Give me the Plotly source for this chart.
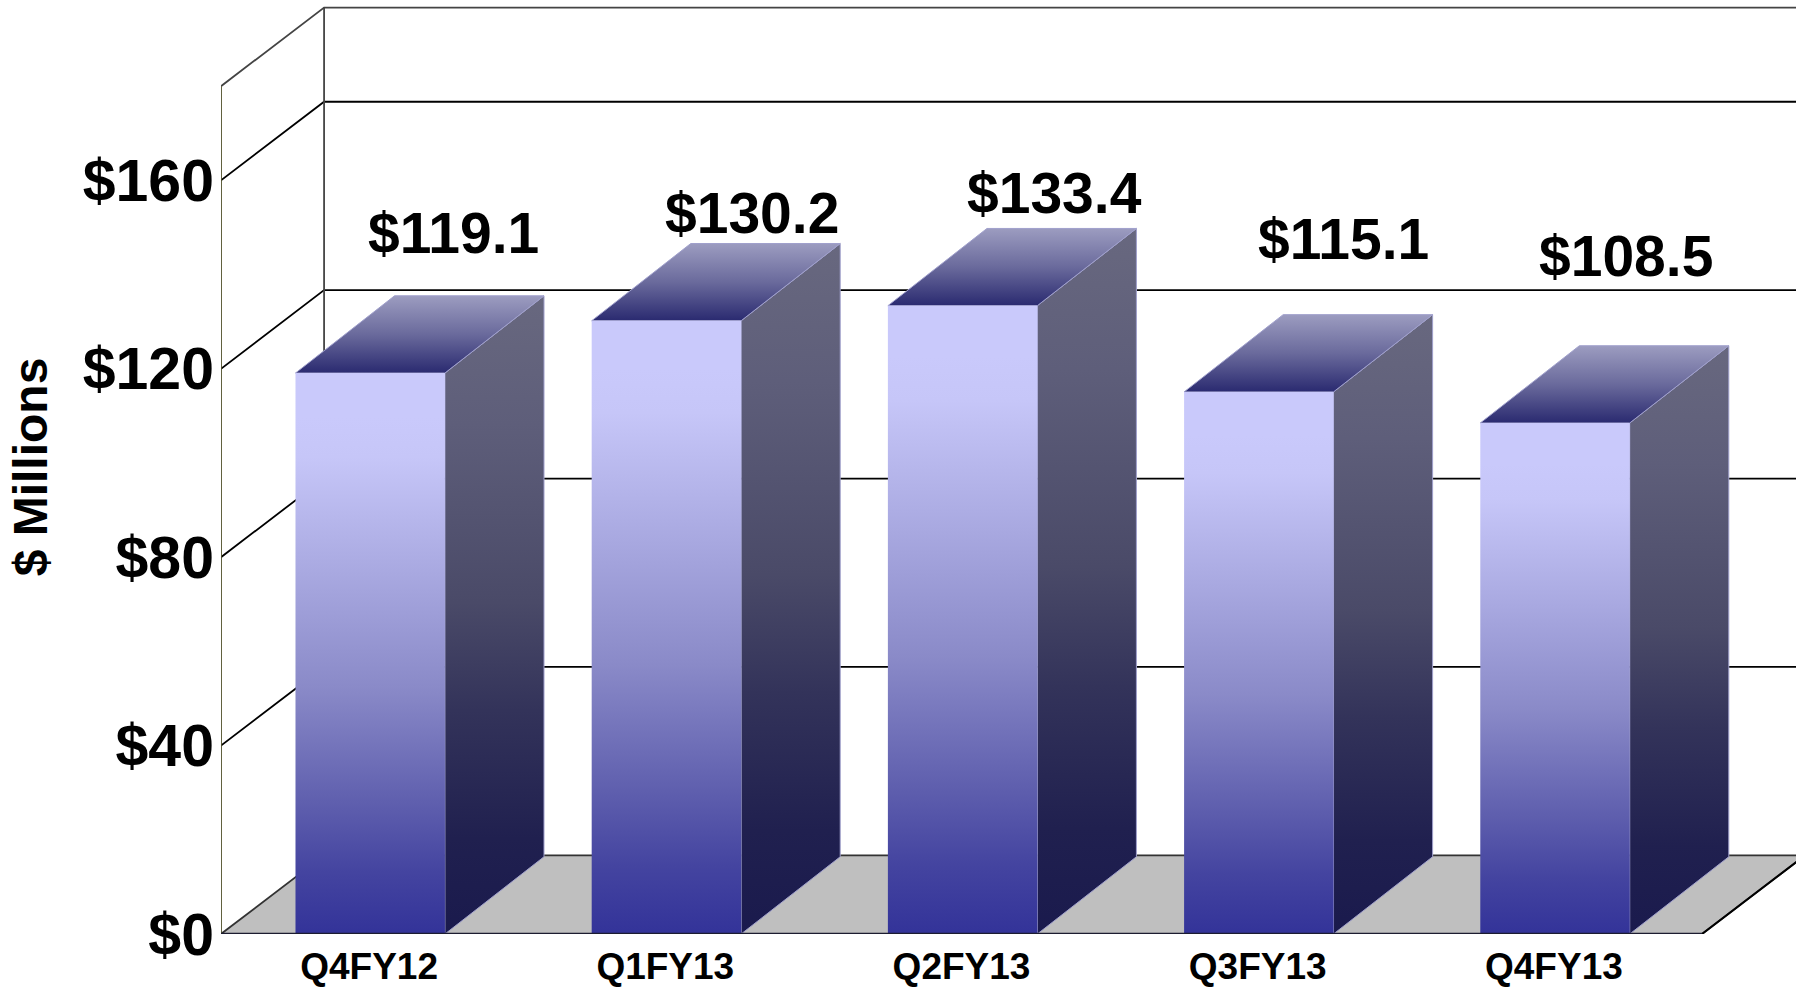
import plotly.graph_objects as go

categories = ["Q4FY12", "Q1FY13", "Q2FY13", "Q3FY13", "Q4FY13"]
values = [119.1, 130.2, 133.4, 115.1, 108.5]
y_ticks = [0, 40, 80, 120, 160]
y_tick_labels = ["$0", "$40", "$80", "$120", "$160"]
y_top = 180
label_xshift = [84, 87, 93, 86, 72]
label_yshift = [140, 108, 113, 153, 167]

wall_dx, wall_dy = 0.348, 16.7
bar_dx, bar_dy = 0.3345, 16.4
bar_left, bar_width = 0.2515, 0.5045
x_max = (1796 - 221) / 296.2
y_max = 934 / 4.71

FRONT = [[0, "#333399"], [0.11, "#4444a0"], [0.234, "#5f5fae"], [0.44, "#8a8ac8"], [0.64, "#a8a8e0"], [0.85, "#c6c6f8"], [0.92, "#c9c9fb"], [1, "#c9c9fb"]]
SIDE = [[0, "#1a1a4d"], [0.15, "#20204f"], [0.35, "#33335a"], [0.52, "#4a4a68"], [0.8, "#5e5e7a"], [1, "#68687f"]]
TOP = [[0, "#2a2a70"], [0.5, "#6a6a9c"], [1, "#9c9cc0"]]
EDGE = "#a0a0cc"

fig = go.Figure()

def line(xs, ys, color, width=1.8):
    fig.add_trace(go.Scatter(x=xs, y=ys, mode="lines", line=dict(color=color, width=width),
                             hoverinfo="skip", showlegend=False))

def face(xs, ys, scale, edge=None):
    fig.add_trace(go.Scatter(x=xs, y=ys, mode="lines", fill="toself",
                             fillgradient=dict(type="vertical", colorscale=scale),
                             line=dict(color=edge or "rgba(0,0,0,0)", width=1),
                             hoverinfo="skip", showlegend=False))

n = len(categories)
# floor
fig.add_trace(go.Scatter(x=[0, n, n + wall_dx, wall_dx, 0], y=[0, 0, wall_dy, wall_dy, 0], mode="lines",
                         fill="toself", fillcolor="#bfbfbf", line=dict(color="#333333", width=1.8),
                         hoverinfo="skip", showlegend=False))
line([n, n + wall_dx], [0, wall_dy], "#000000", 2)
# back wall
for v in y_ticks[1:]:
    line([0, wall_dx, x_max], [v, v + wall_dy, v + wall_dy], "#000000")
line([0, wall_dx, x_max], [y_top, y_top + wall_dy, y_top + wall_dy], "#444444")
line([wall_dx, wall_dx], [wall_dy, y_top + wall_dy], "#444444")
line([0, 0], [0, y_top], "#50502a", 1.8)

for i, v in enumerate(values):
    l = i + bar_left
    r = l + bar_width
    face([r, r + bar_dx, r + bar_dx, r, r], [0, bar_dy, v + bar_dy, v, 0], SIDE, EDGE)
    face([l, r, r + bar_dx, l + bar_dx, l], [v, v, v + bar_dy, v + bar_dy, v], TOP, EDGE)
    face([l, r, r, l, l], [0, 0, v, v, 0], FRONT)

line([0, n], [0, 0], "#1c1c30", 2.4)

annotations = [
    dict(x=i + 0.5, y=v, xref="x", yref="y", text=f"${v:.1f}", showarrow=False,
         xshift=label_xshift[i], yshift=label_yshift[i],
         font=dict(family="Liberation Sans", size=57, color="#000000", weight="bold"))
    for i, v in enumerate(values)
]

fig.update_layout(
    width=1796, height=987, margin=dict(l=221, r=0, t=0, b=53, autoexpand=False),
    paper_bgcolor="white", plot_bgcolor="white", showlegend=False, hovermode=False,
    font=dict(family="Liberation Sans", color="#000000"),
    annotations=annotations,
    xaxis=dict(range=[0, x_max], tickmode="array", tickvals=[i + 0.5 for i in range(n)], ticktext=categories,
               showgrid=False, zeroline=False, showline=False, ticks="outside", ticklen=0, tickcolor="rgba(0,0,0,0)",
               tickfont=dict(family="Liberation Sans", size=37, color="#000000", weight="bold")),
    yaxis=dict(range=[0, y_max], tickmode="array", tickvals=y_ticks, ticktext=y_tick_labels,
               showgrid=False, zeroline=False, showline=False, ticks="", ticklabelstandoff=6,
               tickfont=dict(family="Liberation Sans", size=59, color="#000000", weight="bold"),
               title=dict(text="$ Millions", standoff=19,
                          font=dict(family="Liberation Sans", size=48, color="#000000", weight="bold"))),
)

fig.write_html("out.html", config={"displayModeBar": False},
               post_script="document.body.style.margin='0';document.body.style.overflow='hidden';")
